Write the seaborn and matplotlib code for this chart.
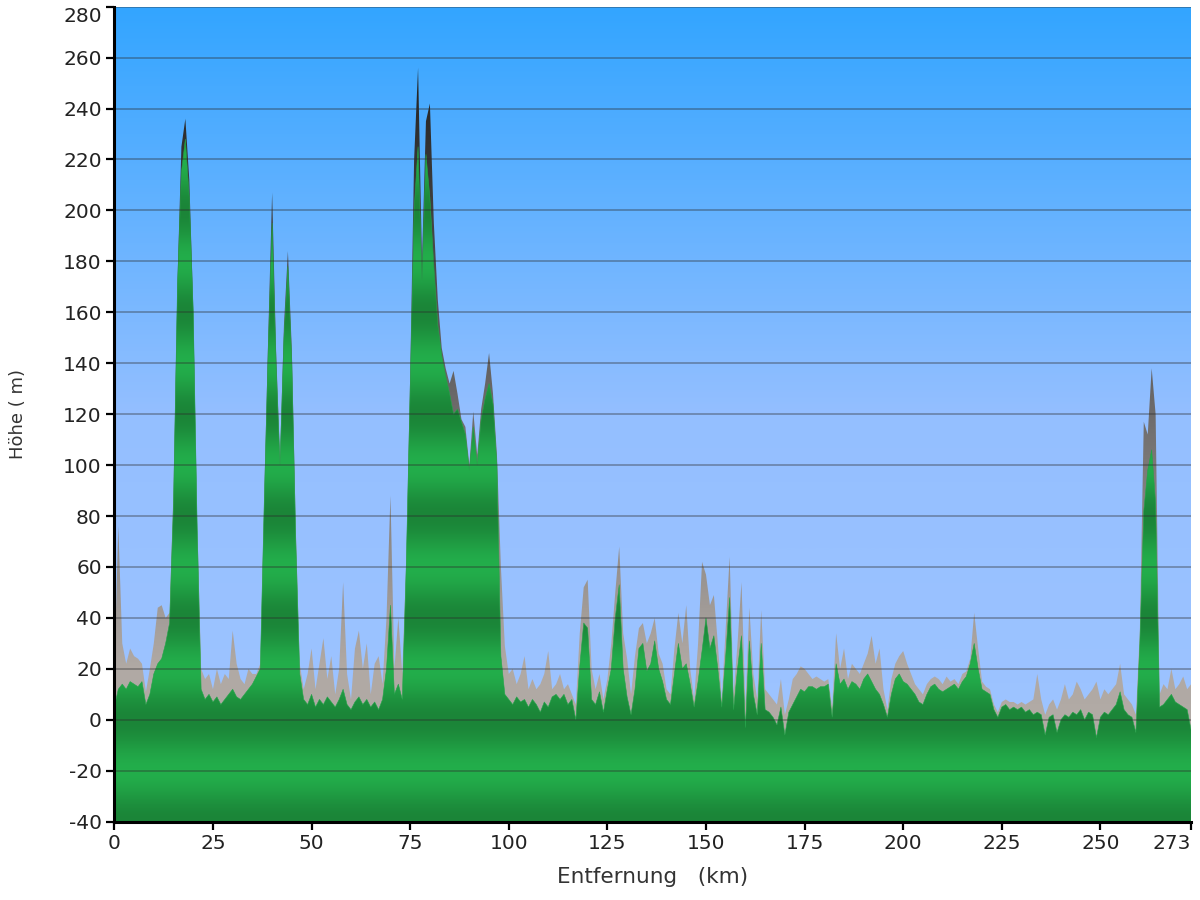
import matplotlib.pyplot as plt
import numpy as np
import pandas as pd
import seaborn as sb
from matplotlib.colors import LinearSegmentedColormap
from matplotlib.patches import Polygon

sb.set_theme(style="white")
plt.rcParams['font.family'] = ['DejaVu Sans']
plt.rcParams['axes.unicode_minus'] = False

# distance along the route, one sample per km
km = list(range(0, 274))

# smoothed elevation (green), m
hoehe = [
    5, 12, 14, 12, 15, 14, 13, 15, 6, 10,
    18, 22, 24, 30, 38, 85, 170, 215, 228, 205,
    160, 75, 12, 8, 10, 7, 9, 6, 8, 10,
    12, 9, 8, 10, 12, 14, 17, 20, 85, 145,
    195, 140, 100, 150, 178, 140, 70, 18, 8, 6,
    10, 5, 8, 6, 9, 7, 5, 8, 12, 6,
    4, 7, 9, 6, 8, 5, 7, 4, 8, 20,
    45, 10, 14, 8, 60, 130, 200, 225, 172, 222,
    205, 178, 155, 143, 135, 128, 120, 122, 117, 112,
    98, 115, 100, 118, 126, 132, 124, 100, 25, 10,
    8, 6, 9, 7, 8, 5, 8, 6, 3, 7,
    5, 9, 10, 8, 10, 6, 8, 0, 21, 38,
    36, 8, 6, 11, 3, 12, 20, 40, 53, 20,
    9, 2, 12, 28, 30, 19, 22, 31, 20, 15,
    8, 6, 18, 30, 20, 22, 14, 5, 15, 27,
    40, 28, 33, 20, 5, 25, 48, 4, 20, 33,
    -3, 31, 10, 2, 30, 4, 3, 1, -2, 5,
    -6, 3, 6, 9, 12, 11, 13, 13, 12, 13,
    13, 14, 1, 22, 14, 16, 12, 15, 14, 12,
    16, 18, 15, 12, 10, 6, 1, 10, 16, 18,
    15, 14, 12, 10, 7, 6, 10, 13, 14, 12,
    11, 12, 13, 14, 12, 15, 17, 22, 30, 20,
    12, 11, 10, 4, 1, 5, 6, 4, 5, 4,
    5, 3, 4, 2, 3, 2, -6, 1, 2, -5,
    0, 2, 1, 3, 2, 4, 0, 3, 2, -7,
    1, 3, 2, 4, 6, 11, 4, 2, 1, -5,
    30, 82, 98, 106, 85, 5, 6, 8, 10, 7,
    6, 5, 4, -4,
]

# raw GPS elevation (grey), m
roh = [
    20, 76, 30, 22, 28, 25, 24, 22, 11, 20,
    30, 44, 45, 40, 42, 90, 172, 225, 236, 212,
    162, 78, 20, 16, 18, 12, 20, 14, 18, 16,
    35, 22, 16, 14, 20, 18, 18, 22, 88, 150,
    207, 145, 103, 155, 184, 145, 75, 22, 12, 18,
    28, 12, 22, 32, 16, 25, 10, 20, 54, 18,
    8, 28, 35, 20, 30, 10, 22, 25, 14, 40,
    88, 20, 40, 18, 62, 135, 220, 256, 180, 235,
    242, 195, 165, 146, 138, 132, 137, 128, 118, 115,
    100, 121, 104, 122, 132, 144, 128, 104, 60, 29,
    18, 20, 14, 18, 25, 12, 16, 12, 14, 18,
    27, 12, 14, 18, 12, 14, 10, 6, 34, 52,
    55, 20, 12, 18, 8, 16, 30, 50, 68, 34,
    24, 10, 25, 36, 38, 30, 34, 40, 26, 22,
    12, 10, 28, 42, 30, 45, 20, 8, 30, 62,
    57, 45, 49, 30, 8, 36, 64, 10, 30, 54,
    6, 44, 18, 8, 43, 12, 10, 8, 6, 16,
    2, 8, 16, 18, 21, 20, 18, 16, 17, 16,
    15, 16, 5, 34, 20, 28, 16, 22, 20, 18,
    22, 26, 33, 22, 28, 12, 4, 16, 22, 25,
    27, 22, 18, 14, 12, 10, 14, 16, 17, 16,
    14, 17, 15, 16, 14, 18, 19, 24, 42, 28,
    15, 13, 12, 6, 3, 7, 8, 7, 7, 6,
    7, 6, 7, 8, 18, 8, 2, 6, 8, 4,
    8, 14, 8, 10, 15, 12, 8, 10, 12, 15,
    8, 12, 10, 12, 14, 22, 10, 8, 6, 2,
    35, 117, 112, 138, 120, 10, 14, 12, 20, 12,
    14, 17, 12, 14,
]

y_ticks = [-40, -20, 0, 20, 40, 60, 80, 100, 120, 140, 160, 180, 200, 220, 240, 260, 280]
x_ticks = [0, 25, 50, 75, 100, 125, 150, 175, 200, 225, 250, 273]

df = pd.DataFrame({"km": km, "hoehe": hoehe, "roh": roh})
x0, x1 = 0, 273
y0, y1 = -40, 280

fig = plt.figure(figsize=(12, 9), dpi=100)
ax = fig.add_axes([0.0953, 0.087, 0.8973, 0.9056])

# sky background
sky = LinearSegmentedColormap.from_list("sky", ["#a0c5ff", "#94bfff", "#33a5ff"])
grad = np.linspace(0, 1, 400).reshape(-1, 1)
ax.imshow(grad, extent=[x0, x1, y0, y1], origin="lower", aspect="auto",
          cmap=sky, zorder=0)

def clip_patch(values):
    verts = np.column_stack([
        np.r_[df["km"].iloc[0], df["km"], df["km"].iloc[-1]],
        np.r_[y0, values, y0],
    ])
    p = Polygon(verts, closed=True, facecolor="none", edgecolor="none")
    ax.add_patch(p)
    return p

# grey raw profile, darker with height
levels = np.linspace(y0, y1, 640).reshape(-1, 1)
grey = LinearSegmentedColormap.from_list(
    "grey", [(0, "#b4ada8"), (0.19, "#b0a9a4"), (0.5, "#6e6c6c"), (0.9, "#262626"), (1, "#202020")])
im_g = ax.imshow(levels, extent=[x0, x1, y0, y1], origin="lower", aspect="auto",
                 cmap=grey, vmin=y0, vmax=y1, zorder=1)
im_g.set_clip_path(clip_patch(df["roh"]))

# green profile with horizontal bands every 40 m
bands = 0.5 - 0.5 * np.cos(2 * np.pi * levels / 40)
green = LinearSegmentedColormap.from_list("green", ["#1b8538", "#23ae4b"])
im_v = ax.imshow(bands, extent=[x0, x1, y0, y1], origin="lower", aspect="auto",
                 cmap=green, vmin=0, vmax=1, zorder=2)
im_v.set_clip_path(clip_patch(df["hoehe"]))
sb.lineplot(data=df, x="km", y="hoehe", color="#22a548", lw=0.4, ax=ax, zorder=3)

# grid lines over everything
for yt in y_ticks:
    ax.axhline(yt, color="#2b2b2b", lw=1.1, alpha=0.45, zorder=4)

ax.set_xlim(x0, x1)
ax.set_ylim(y0, y1)
ax.set_xticks(x_ticks)
ax.set_yticks(y_ticks)
ax.tick_params(axis="both", direction="out", length=6, width=1.6, color="black",
               labelsize=14.5, labelcolor="#222222", pad=3, left=True, bottom=True)
ax.yaxis.get_ticklabels()[-1].set_va("top")
ax.xaxis.get_ticklabels()[-1].set_ha("right")

for side in ["top", "right"]:
    ax.spines[side].set_visible(False)
for side in ["left", "bottom"]:
    ax.spines[side].set_color("black")
    ax.spines[side].set_linewidth(2.2)
    ax.spines[side].set_zorder(5)

ax.set_xlabel("Entfernung   (km)", fontsize=15.5, color="#333333", labelpad=10)
ax.set_ylabel("Höhe ( m)", fontsize=13, color="#333333", labelpad=26)
ax.grid(False)

fig.savefig("out.png", dpi=100)
